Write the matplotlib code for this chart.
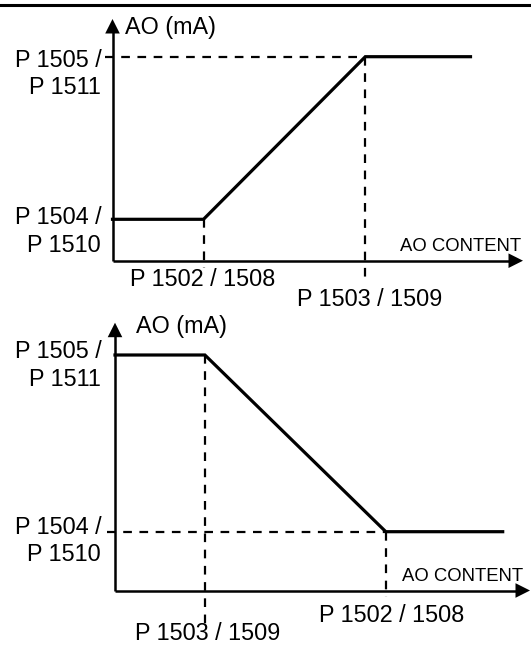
import matplotlib.pyplot as plt
from matplotlib.patches import Polygon

plt.rcParams['font.family'] = ['Liberation Sans', 'DejaVu Sans']

# values (units ~ pixels from each graph's origin)
# upper graph: AO rises with content
up_x = [0, 91, 252.8, 358]
up_y = [41.4, 41.4, 204, 204]
# lower graph: AO falls with content
down_x = [0, 89.9, 270.8, 387.7]
down_y = [235.5, 235.5, 58.8, 58.8]

y_title = 'AO (mA)'
x_title = 'AO CONTENT'
hi_label = ['P 1505 /', 'P 1511']
lo_label = ['P 1504 /', 'P 1510']
bp_min = 'P 1502 / 1508'
bp_max = 'P 1503 / 1509'

W, H = 531, 645
fig = plt.figure(figsize=(W / 100, H / 100), dpi=100)

FS = 16.8
FS_SMALL = 13.3
LW = 2.3
AX_LW = 1.8
D_LW = 1.6
DASH = (3.9, 3.4)


def make_axes(top_px, bot_px, ox, oy):
    # axes spanning a horizontal band of the figure, 1 data unit = 1 px
    ax = fig.add_axes([0, 1 - bot_px / H, 1, (bot_px - top_px) / H])
    ax.set_xlim(-ox, W - ox)
    ax.set_ylim(-(bot_px - oy), oy - top_px)
    ax.axis('off')
    return ax


def axes_arrows(ax, x_tip, y_tip):
    ax.plot([0, 0], [0, y_tip - 13], color='black', lw=AX_LW, solid_capstyle='butt')
    ax.plot([0, x_tip - 13], [0, 0], color='black', lw=AX_LW, solid_capstyle='butt')
    ax.add_patch(Polygon([[-7.3, y_tip - 14.5], [7.3, y_tip - 14.5], [0, y_tip]],
                         closed=True, color='black', lw=0))
    ax.add_patch(Polygon([[x_tip - 14.5, -7.3], [x_tip - 14.5, 7.3], [x_tip, 0]],
                         closed=True, color='black', lw=0))


def dashed(ax, xs, ys):
    ln, = ax.plot(xs, ys, color='black', lw=D_LW, dash_capstyle='butt')
    ln.set_dashes(DASH)


# thick rule at the very top
fig.add_artist(plt.Line2D([0, 1], [1 - 5 / H, 1 - 5 / H], color='black', lw=2.2,
                          transform=fig.transFigure))

# ---- upper graph ----
ax1 = make_axes(0, 310, 112.5, 260.7)
axes_arrows(ax1, 410.5, 241.7)
dashed(ax1, [-8, up_x[2]], [up_y[2], up_y[2]])
dashed(ax1, [up_x[2], up_x[2]], [up_y[2], -16.3])
dashed(ax1, [up_x[1], up_x[1]], [up_y[1], -7.6])
ax1.plot(up_x, up_y, color='black', lw=LW, solid_joinstyle='miter')

ax1.text(12.8, 226.7, y_title, fontsize=FS, va='baseline', ha='left')
ax1.text(-10.8, 194, hi_label[0], fontsize=FS, va='baseline', ha='right')
ax1.text(-12, 166.4, hi_label[1], fontsize=FS, va='baseline', ha='right')
ax1.text(-10.9, 36.7, lo_label[0], fontsize=FS, va='baseline', ha='right')
ax1.text(-12, 9, lo_label[1], fontsize=FS, va='baseline', ha='right')
ax1.text(408.2, 9.7, x_title, fontsize=FS_SMALL, va='baseline', ha='right')
ax1.text(90.3, -25.3, bp_min, fontsize=FS, va='baseline', ha='center')
ax1.text(256.7, -45.3, bp_max, fontsize=FS, va='baseline', ha='center')

# ---- lower graph ----
ax2 = make_axes(310, 645, 115, 590.5)
axes_arrows(ax2, 415, 267.8)
dashed(ax2, [down_x[1], down_x[1]], [down_y[1], -36.5])
dashed(ax2, [-8, down_x[2]], [down_y[2], down_y[2]])
dashed(ax2, [down_x[2], down_x[2]], [down_y[2], -6.8])
ax2.plot(down_x, down_y, color='black', lw=LW, solid_joinstyle='miter')

ax2.text(21, 257.2, y_title, fontsize=FS, va='baseline', ha='left')
ax2.text(-13.4, 232.2, hi_label[0], fontsize=FS, va='baseline', ha='right')
ax2.text(-14, 204.5, hi_label[1], fontsize=FS, va='baseline', ha='right')
ax2.text(-13.4, 56.5, lo_label[0], fontsize=FS, va='baseline', ha='right')
ax2.text(-14, 29.8, lo_label[1], fontsize=FS, va='baseline', ha='right')
ax2.text(408, 9.5, x_title, fontsize=FS_SMALL, va='baseline', ha='right')
ax2.text(276.8, -31.2, bp_min, fontsize=FS, va='baseline', ha='center')
ax2.text(92.4, -49.5, bp_max, fontsize=FS, va='baseline', ha='center')

fig.savefig('out.png', dpi=100, facecolor='white')
